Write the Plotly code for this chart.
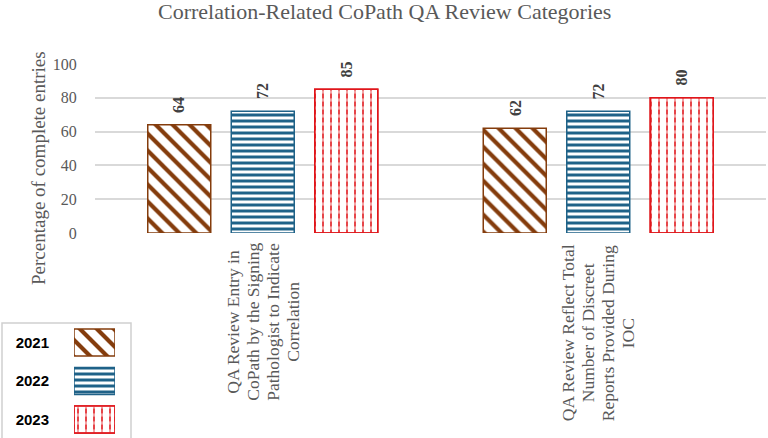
import plotly.graph_objects as go

# ---- data ----
categories = [
    "QA Review Entry in CoPath by the Signing Pathologist to Indicate Correlation",
    "QA Review Reflect Total Number of Discreet Reports Provided During IOC",
]
category_lines = [
    ["QA Review Entry in", "CoPath by the Signing", "Pathologist to Indicate", "Correlation"],
    ["QA Review Reflect Total", "Number of Discreet", "Reports Provided During", "IOC"],
]
years = ["2021", "2022", "2023"]
values_2021 = [64, 62]
values_2022 = [72, 72]
values_2023 = [85, 80]
y_ticks = [0, 20, 40, 60, 80, 100]

series = [values_2021, values_2022, values_2023]
colors = ["#843C0C", "#1F6288", "#E0161B"]
shapes_ = ["\\", "-", "|"]
psizes = [12, 6, 8]
psolid = [0.35, 0.5, 0.2]

W, H = 768, 438
SERIF = "Liberation Serif, Times New Roman, serif"

px_left, px_right = 95, 766
px_top, px_bottom = 64, 233
cat_px = (px_right - px_left) / len(categories)
slot = 83.5 / cat_px          # slot pitch in category units
bw = 63.0 / cat_px            # bar width in category units
label_centers_px = [322, 333]  # vertical centre of each rotated category label block

fig = go.Figure()

for i, (yr, vals, c, sh, ps, so) in enumerate(zip(years, series, colors, shapes_, psizes, psolid)):
    off = (i - 1) * slot - bw / 2
    fig.add_trace(go.Bar(
        x=categories, y=vals, name=yr, width=bw, offset=off,
        marker=dict(color="white", line=dict(color=c, width=1.5),
                    pattern=dict(shape=sh, fgcolor=c, bgcolor="white", size=ps, solidity=so, fillmode="replace")),
        xaxis="x", yaxis="y", showlegend=False,
    ))
    if yr == "2023":
        # white gaps to turn vertical lines into dashes
        fig.add_trace(go.Bar(
            x=categories, y=vals, width=bw, offset=off,
            marker=dict(color="rgba(0,0,0,0)", line=dict(width=0),
                        pattern=dict(shape="-", fgcolor="white", bgcolor="rgba(0,0,0,0)", size=8, solidity=0.4,
                                     fillmode="overlay")),
            xaxis="x", yaxis="y", showlegend=False, hoverinfo="skip",
        ))
        fig.add_trace(go.Bar(
            x=categories, y=vals, width=bw, offset=off,
            marker=dict(color="rgba(0,0,0,0)", line=dict(color=c, width=1.5)),
            xaxis="x", yaxis="y", showlegend=False, hoverinfo="skip",
        ))

# legend swatches drawn as a small bar chart
fig.add_trace(go.Bar(
    y=years, x=[1, 1, 1], orientation="h", width=0.7,
    marker=dict(color="white", line=dict(color=colors, width=1.5),
                pattern=dict(shape=shapes_, fgcolor=colors, bgcolor="white", size=psizes, solidity=psolid, fillmode="replace")),
    xaxis="x2", yaxis="y2", showlegend=False, hoverinfo="skip",
))
fig.add_trace(go.Bar(
    y=["2023"], x=[1], orientation="h", width=0.7,
    marker=dict(color="rgba(0,0,0,0)", line=dict(width=0),
                pattern=dict(shape="-", fgcolor="white", bgcolor="rgba(0,0,0,0)", size=8, solidity=0.4, fillmode="overlay")),
    xaxis="x2", yaxis="y2", showlegend=False, hoverinfo="skip",
))
fig.add_trace(go.Bar(
    y=["2023"], x=[1], orientation="h", width=0.7,
    marker=dict(color="rgba(0,0,0,0)", line=dict(color=colors[2], width=1.5)),
    xaxis="x2", yaxis="y2", showlegend=False, hoverinfo="skip",
))

fig.update_layout(
    width=W, height=H,
    margin=dict(l=0, r=0, t=0, b=0),
    paper_bgcolor="white", plot_bgcolor="white",
    barmode="overlay",
    showlegend=False,
    xaxis=dict(domain=[px_left / W, px_right / W], showticklabels=False, showgrid=False,
               showline=False, zeroline=False, categoryorder="array", categoryarray=categories),
    yaxis=dict(domain=[(H - px_bottom) / H, (H - px_top) / H], range=[0, 100],
               tickvals=y_ticks, showgrid=True, gridcolor="#D9D9D9", gridwidth=1.5,
               zeroline=False, showline=False, automargin=False,
               ticks="outside", ticklen=14, tickcolor="rgba(0,0,0,0)",
               tickfont=dict(family=SERIF, size=16, color="#595959")),
    xaxis2=dict(domain=[74 / W, 115 / W], range=[0, 1], visible=False, anchor="y2"),
    yaxis2=dict(domain=[0, 115 / H], type="category", categoryorder="array", categoryarray=years,
                range=[2.48, -0.506], anchor="x2", showgrid=False, zeroline=False, showline=False,
                ticks="outside", ticklen=21, tickcolor="rgba(0,0,0,0)", automargin=False,
                tickfont=dict(family="Liberation Sans, Arial, sans-serif", size=15, color="black", weight="bold")),
    font=dict(family=SERIF),
)

annotations = [
    dict(text="Correlation-Related CoPath QA Review Categories", x=384 / W, y=(H - 11) / H,
         xref="paper", yref="paper", showarrow=False, xanchor="center", yanchor="middle",
         font=dict(family=SERIF, size=22, color="#595959")),
    dict(text="Percentage of complete entries", x=38 / W, y=(H - 168) / H,
         xref="paper", yref="paper", showarrow=False, xanchor="center", yanchor="middle",
         textangle=-90, font=dict(family=SERIF, size=19, color="#595959")),
]
# category labels, one annotation per line so line spacing matches
for cat, lines, cy in zip(categories, category_lines, label_centers_px):
    n = len(lines)
    for j, ln in enumerate(lines):
        annotations.append(dict(text=ln, x=cat, y=(H - cy) / H, xref="x", yref="paper",
                                xshift=(j - (n - 1) / 2) * 20, showarrow=False,
                                xanchor="center", yanchor="middle", textangle=-90,
                                font=dict(family=SERIF, size=17.5, color="#595959")))
# data labels
for i, vals in enumerate(series):
    for cat, v in zip(categories, vals):
        annotations.append(dict(text=str(v), x=cat, y=v, xref="x", yref="y",
                                xshift=(i - 1) * 83.5, yshift=10, showarrow=False,
                                xanchor="center", yanchor="bottom", textangle=-90,
                                font=dict(family=SERIF, size=16, color="#404040", weight="bold")))
fig.update_layout(annotations=annotations)

fig.add_shape(type="rect", xref="paper", yref="paper", x0=2 / W, x1=131 / W,
              y0=(H - 441) / H, y1=(H - 323) / H, line=dict(color="#D0D0D0", width=1.5),
              fillcolor="rgba(0,0,0,0)", layer="below")

fig.write_html("out.html")
